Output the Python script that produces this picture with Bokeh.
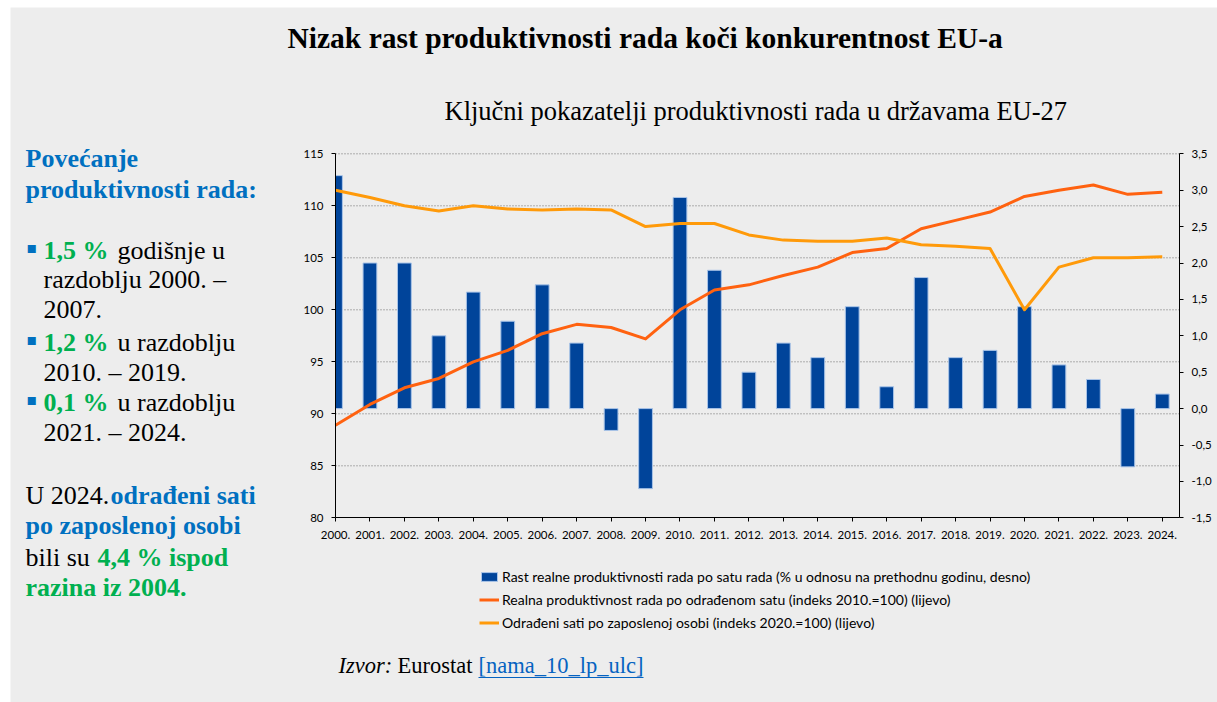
from bokeh.plotting import figure
from bokeh.layouts import row, column, Spacer
from bokeh.models import (Range1d, LinearAxis, FixedTicker, Label, Legend, LegendItem,
                          CustomJSTickFormatter)
from bokeh.embed import file_html
from bokeh.resources import INLINE

# ---------------- data ----------------
years = ["2000.", "2001.", "2002.", "2003.", "2004.", "2005.", "2006.", "2007.", "2008.",
         "2009.", "2010.", "2011.", "2012.", "2013.", "2014.", "2015.", "2016.", "2017.",
         "2018.", "2019.", "2020.", "2021.", "2022.", "2023.", "2024."]
growth = [3.2, 2.0, 2.0, 1.0, 1.6, 1.2, 1.7, 0.9, -0.3, -1.1, 2.9, 1.9, 0.5, 0.9, 0.7,
          1.4, 0.3, 1.8, 0.7, 0.8, 1.4, 0.6, 0.4, -0.8, 0.2]
productivity = [88.9, 90.9, 92.5, 93.4, 95.0, 96.1, 97.7, 98.6, 98.3, 97.2, 100.0, 101.9,
                102.4, 103.3, 104.1, 105.5, 105.9, 107.8, 108.6, 109.4, 110.9, 111.5,
                112.0, 111.1, 111.3]
hours = [111.5, 110.8, 110.0, 109.5, 110.0, 109.7, 109.6, 109.7, 109.6, 108.0, 108.3,
         108.3, 107.2, 106.7, 106.6, 106.6, 106.9, 106.25, 106.1, 105.9, 100.0, 104.1,
         105.0, 105.0, 105.1]
left_ticks = [80, 85, 90, 95, 100, 105, 110, 115]
right_ticks = [-1.5, -1.0, -0.5, 0.0, 0.5, 1.0, 1.5, 2.0, 2.5, 3.0, 3.5]
legend_labels = [
    "Rast realne produktivnosti rada po satu rada (% u odnosu na prethodnu godinu, desno)",
    "Realna produktivnost rada po odrađenom satu (indeks 2010.=100) (lijevo)",
    "Odrađeni sati po zaposlenoj osobi (indeks 2020.=100) (lijevo)",
]
title_text = "Nizak rast produktivnosti rada koči konkurentnost EU-a"
subtitle_text = "Ključni pokazatelji produktivnosti rada u državama EU-27"

# ---------------- style / layout constants ----------------
BG = "#EDEDED"
BAR = "#00449A"
BAR_EDGE = "#A9C4E8"
RED = "#FF6210"
ORANGE = "#FF9A0A"
BLUE_TXT = "#0070C0"
GREEN_TXT = "#00B050"
LINK = "#0563C1"
GRID = "#6E6E6E"
AXIS_FONT = "Lato"
SERIF = "Liberation Serif"

OX, OY, W, H = 10, 7, 1207, 695          # canvas position / size on the page
PL, PR, PT, PB = 335, 1179, 153.3, 517.3  # plot area on the page
XMIN, XMAX = 0, 24.5
YL = (80, 115)
YR = (-1.5, 3.5)
BAR_W = 0.4

idx = list(range(len(years)))


def lin(v, a0, a1, b0, b1):
    return b0 + (v - a0) * (b1 - b0) / (a1 - a0)


x_range = Range1d(lin(OX, PL, PR, XMIN, XMAX), lin(OX + W, PL, PR, XMIN, XMAX))
y_range = Range1d(lin(OY + H, PB, PT, *YL), lin(OY, PB, PT, *YL))
r_range = Range1d(lin(OY + H, PB, PT, *YR), lin(OY, PB, PT, *YR))

p = figure(width=W, height=H, x_range=x_range, y_range=y_range,
           x_axis_type=None, y_axis_type=None, output_backend="svg",
           toolbar_location=None, min_border=0, background_fill_color=BG,
           border_fill_color=BG, outline_line_color=None)
p.extra_y_ranges = {"right": r_range}
p.grid.visible = False

# axes
xax = LinearAxis(fixed_location=YL[0], bounds=(XMIN, XMAX), ticker=FixedTicker(ticks=idx),
                 major_label_overrides={i: y for i, y in enumerate(years)})
lax = LinearAxis(fixed_location=XMIN, bounds=YL, ticker=FixedTicker(ticks=left_ticks))
rax = LinearAxis(y_range_name="right", fixed_location=XMAX, bounds=YR,
                 ticker=FixedTicker(ticks=right_ticks),
                 formatter=CustomJSTickFormatter(
                     code="return tick.toFixed(1).replace('.', ',');"))
for ax in (xax, lax, rax):
    ax.axis_line_color = "#000000"
    ax.axis_line_width = 1
    ax.major_tick_line_color = "#000000"
    ax.major_tick_out = 4
    ax.major_tick_in = 0
    ax.minor_tick_line_color = None
    ax.major_label_text_font = AXIS_FONT
    ax.major_label_text_font_size = "11.5px"
    ax.major_label_text_color = "#000000"
xax.major_label_standoff = 9
lax.major_label_standoff = 8
rax.major_label_standoff = 8
p.add_layout(xax, "below")
p.add_layout(lax, "left")
p.add_layout(rax, "right")

# horizontal dotted grid lines at the left-axis ticks
gy = left_ticks[1:]
p.segment(x0=[XMIN] * len(gy), x1=[XMAX] * len(gy), y0=gy, y1=gy,
          line_color=GRID, line_width=1, line_dash="1 2")

# bars (right axis), clipped at the left axis like the original
bars = p.quad(left=[max(i - BAR_W / 2, XMIN) for i in idx],
              right=[i + BAR_W / 2 for i in idx], top=growth, bottom=0,
              y_range_name="right", fill_color=BAR, line_color=BAR_EDGE, line_width=1)
l1 = p.line(idx, productivity, line_color=RED, line_width=3, line_join="round")
l2 = p.line(idx, hours, line_color=ORANGE, line_width=3, line_join="round")

legend = Legend(items=[LegendItem(label=legend_labels[0], renderers=[bars]),
                       LegendItem(label=legend_labels[1], renderers=[l1]),
                       LegendItem(label=legend_labels[2], renderers=[l2])],
                location=(479 - OX, OY + H - 632), orientation="vertical",
                background_fill_alpha=0, border_line_color=None, padding=0, margin=0,
                spacing=3, label_height=20, glyph_height=11, glyph_width=20,
                label_standoff=3, label_text_font=AXIS_FONT,
                label_text_font_size="14px", label_text_color="#000000")
p.add_layout(legend)


def lab(txt, px, py, size, color="#000000", style="normal", font=SERIF):
    p.add_layout(Label(x=px - OX, y=OY + H - py, x_units="screen", y_units="screen",
                       text=txt, text_font=font, text_font_size=f"{size}px",
                       text_font_style=style, text_color=color, text_align="left",
                       text_baseline="alphabetic"))


lab(title_text, 287, 37, 29.5, style="bold")
lab(subtitle_text, 444, 110, 26.5)

FS = 26
lab("Povećanje", 25, 158, FS, BLUE_TXT, "bold")
lab("produktivnosti rada:", 25, 189, FS, BLUE_TXT, "bold")
for by, num, rest in [(250, "1,5 %", "godišnje u"), (342, "1,2 %", "u razdoblju"),
                      (402, "0,1 %", "u razdoblju")]:
    lab("▪", 26, by - 3, 16, BLUE_TXT, font="DejaVu Sans")
    lab(num, 43, by, FS, GREEN_TXT, "bold")
    lab(rest, 117, by, FS)
lab("razdoblju 2000. –", 43, 279, FS)
lab("2007.", 43, 309, FS)
lab("2010. – 2019.", 43, 372, FS)
lab("2021. – 2024.", 43, 432, FS)
lab("U 2024.", 25, 495, FS)
lab("odrađeni sati", 110, 495, FS, BLUE_TXT, "bold")
lab("po zaposlenoj osobi", 25, 525, FS, BLUE_TXT, "bold")
lab("bili su", 25, 557, FS)
lab("4,4 % ispod", 97, 557, FS, GREEN_TXT, "bold")
lab("razina iz 2004.", 25, 587, FS, GREEN_TXT, "bold")

lab("Izvor:", 338, 665, 22.5, style="italic")
lab("Eurostat", 397, 665, 22.5)
lab("[nama_10_lp_ulc]", 478, 665, 22.5, LINK)
uy = lin(677, PB, PT, *YL)
p.segment(x0=[lin(478, PL, PR, XMIN, XMAX)], x1=[lin(643, PL, PR, XMIN, XMAX)],
          y0=[uy], y1=[uy], line_color=LINK, line_width=1)

layout = column(Spacer(width=OX + W, height=OY),
                row(Spacer(width=OX, height=H), p))

open("out.html", "w").write(file_html(layout, INLINE))
